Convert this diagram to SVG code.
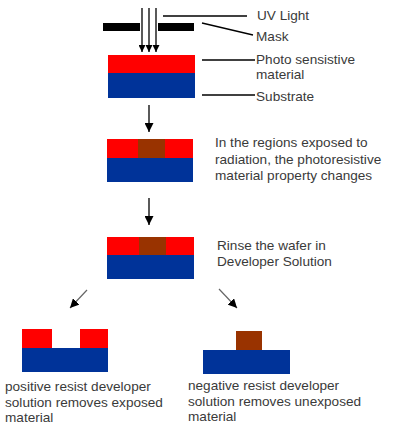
<svg xmlns="http://www.w3.org/2000/svg" width="400" height="430" viewBox="0 0 400 430">
<defs>
<style>
text{font-family:"Liberation Sans",Arial,sans-serif;font-size:13.6px;fill:#3a3a3a}
.ln{stroke:#000;stroke-width:1.3;fill:none}
.red{fill:#ff0000}
.blue{fill:#003399}
.brown{fill:#993300}
</style>
<marker id="ah" viewBox="0 0 10 10" refX="10" refY="5" markerWidth="7" markerHeight="7" markerUnits="userSpaceOnUse" orient="auto"><path d="M0,0 L10,5 L0,10 z" fill="#000"/></marker>
<marker id="ah2" viewBox="0 0 10 10" refX="10" refY="5" markerWidth="9" markerHeight="9" markerUnits="userSpaceOnUse" orient="auto"><path d="M0,0 L10,5 L0,10 z" fill="#000"/></marker>
</defs>
<g id="mask">
<rect x="103" y="23" width="37" height="8" fill="#000"/>
<rect x="158" y="23" width="36" height="8" fill="#000"/>
</g>
<g id="uv-light">
<line x1="142" y1="8" x2="142" y2="52" class="ln" marker-end="url(#ah)"/>
<line x1="149" y1="8" x2="149" y2="52" class="ln" marker-end="url(#ah)"/>
<line x1="156" y1="8" x2="156" y2="52" class="ln" marker-end="url(#ah)"/>
</g>
<g id="wafer1">
<rect x="108" y="55" width="87" height="18" class="red"/>
<rect x="108" y="73" width="87" height="25" class="blue"/>
</g>
<g id="labels">
<line x1="163" y1="16" x2="247" y2="16" class="ln"/>
<text x="257" y="20">UV Light</text>
<line x1="202" y1="23" x2="253" y2="35" class="ln"/>
<text x="256" y="41">Mask</text>
<line x1="202" y1="60" x2="255" y2="60" class="ln"/>
<text x="256" y="64">Photo sensistive</text>
<text x="256" y="79">material</text>
<line x1="202" y1="95" x2="255" y2="95" class="ln"/>
<text x="256" y="101">Substrate</text>
</g>
<g id="wafer2">
<rect x="107" y="139" width="86" height="19" class="red"/>
<rect x="138" y="139" width="27" height="19" class="brown"/>
<rect x="107" y="158" width="86" height="24" class="blue"/>
<text x="215" y="147">In the regions exposed to</text>
<text x="215" y="164">radiation, the photoresistive</text>
<text x="215" y="180">material property changes</text>
</g>
<g id="wafer3">
<rect x="107" y="237" width="87" height="18" class="red"/>
<rect x="139" y="237" width="27" height="18" class="brown"/>
<rect x="107" y="255" width="87" height="24" class="blue"/>
<text x="217" y="250">Rinse the wafer in</text>
<text x="217" y="266">Developer Solution</text>
</g>
<g id="positive">
<rect x="22" y="329" width="30" height="19" class="red"/>
<rect x="80" y="329" width="28" height="19" class="red"/>
<rect x="22" y="348" width="86" height="24" class="blue"/>
<text x="5" y="391">positive resist developer</text>
<text x="5" y="407">solution removes exposed</text>
<text x="5" y="422">material</text>
</g>
<g id="negative">
<rect x="236" y="331" width="26" height="19" class="brown"/>
<rect x="203" y="350" width="87" height="24" class="blue"/>
<text x="188" y="390">negative resist developer</text>
<text x="188" y="406">solution removes unexposed</text>
<text x="188" y="421">material</text>
</g>
<g id="connectors">
<line x1="149" y1="105" x2="149" y2="132" class="ln" marker-end="url(#ah2)"/>
<line x1="149" y1="198" x2="149" y2="225" class="ln" marker-end="url(#ah2)"/>
<line x1="87" y1="290" x2="70" y2="308" stroke="#666" stroke-width="1.2" marker-end="url(#ah2)"/>
<line x1="219" y1="289" x2="237" y2="308" stroke="#666" stroke-width="1.2" marker-end="url(#ah2)"/>
</g>
</svg>
